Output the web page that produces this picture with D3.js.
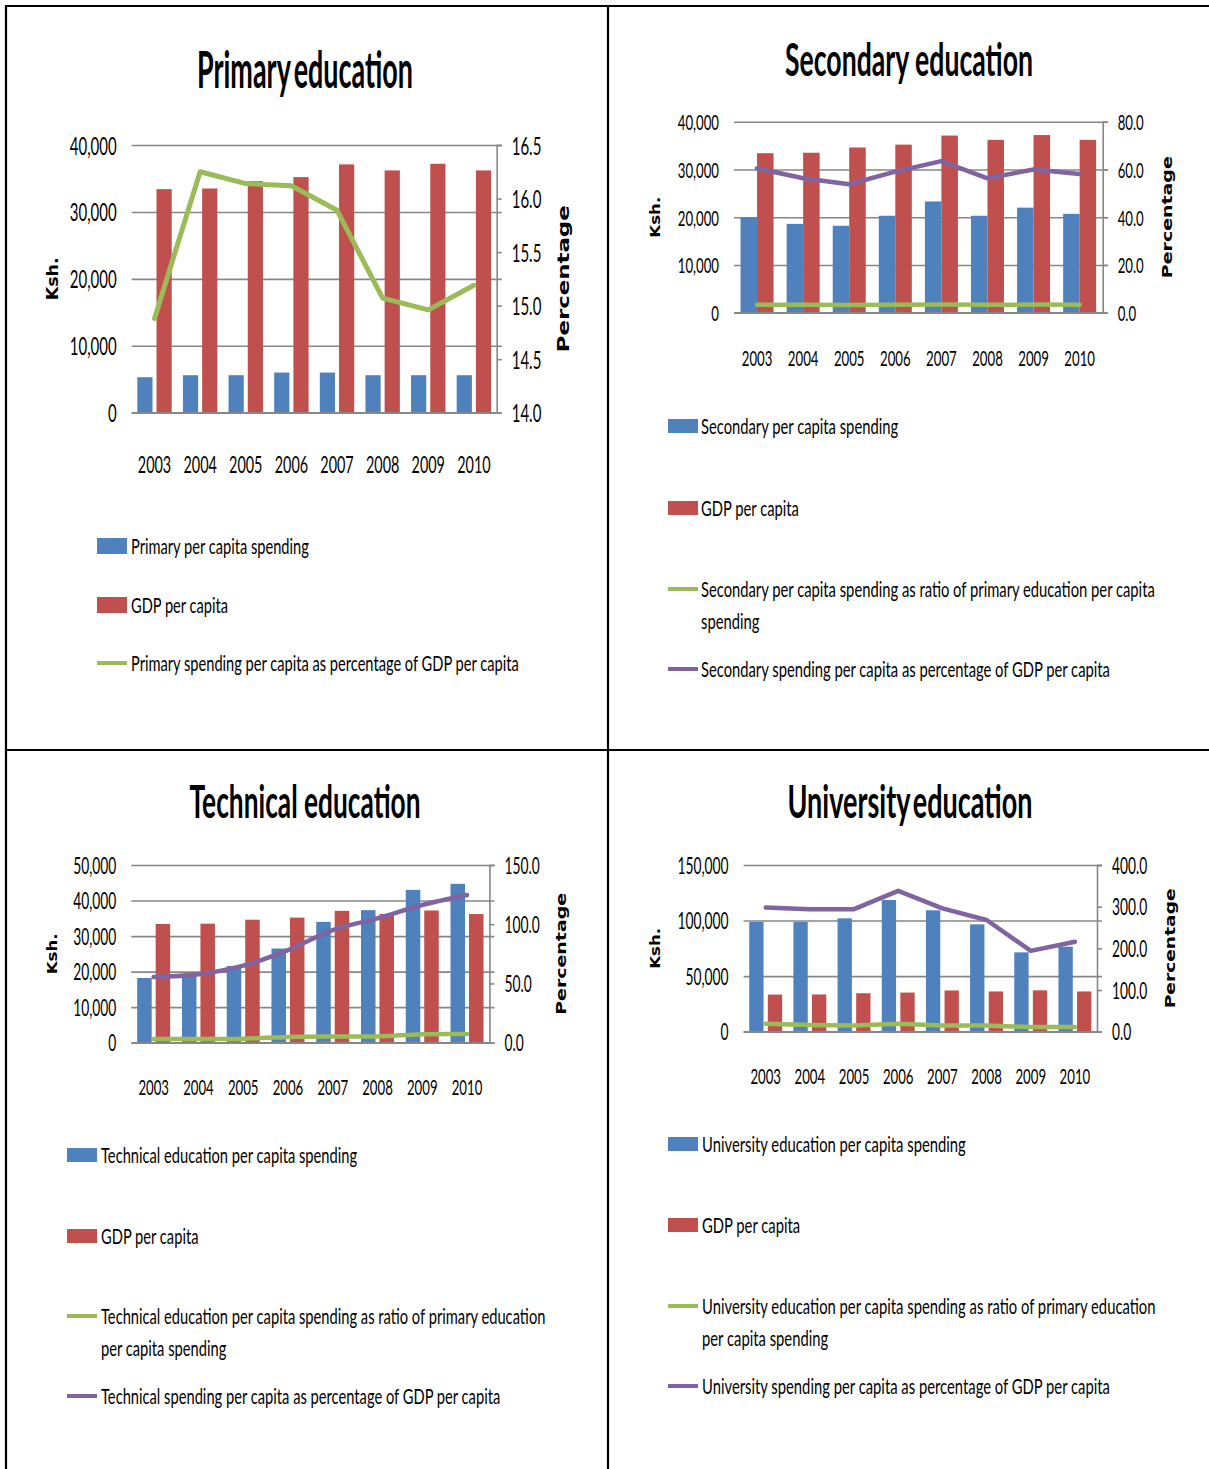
<!DOCTYPE html>
<html>
<head>
<meta charset="utf-8">
<script src="https://cdn.jsdelivr.net/npm/d3@7"></script>
<style>
  html, body { margin: 0; padding: 0; background: #ffffff; }
  svg { display: block; }
</style>
</head>
<body>
<svg id="chart" width="1209" height="1469"></svg>
<script>
// ---- Data (Ksh. per capita and percentages, 2003-2010) ----
const years = ["2003", "2004", "2005", "2006", "2007", "2008", "2009", "2010"];

const gdpPerCapita = [33400, 33500, 34600, 35200, 37100, 36200, 37200, 36200];

const primarySpending = [5300, 5600, 5600, 6000, 6000, 5600, 5600, 5600];
const primaryPctGdp = [14.88, 16.25, 16.14, 16.12, 15.89, 15.07, 14.96, 15.19];

const secondarySpending = [19900, 18600, 18200, 20300, 23300, 20300, 22000, 20700];
const secondaryRatioPrimary = [3.3, 3.3, 3.2, 3.3, 3.4, 3.3, 3.4, 3.3];
const secondaryPctGdp = [60.5, 56.3, 53.8, 59.1, 63.5, 56.3, 60.0, 58.1];

const technicalSpending = [18200, 19000, 21600, 26500, 34000, 37300, 43000, 44700];
const technicalRatioPrimary = [3.2, 3.2, 3.3, 4.9, 5.3, 5.3, 7.2, 7.4];
const technicalPctGdp = [55.4, 57.7, 65.0, 78.2, 95.1, 105.0, 116.2, 124.7];

const universitySpending = [98700, 98700, 102000, 118500, 109200, 96600, 71400, 76500];
const universityRatioPrimary = [19, 16, 15, 19, 15, 15, 11, 11];
const universityPctGdp = [298, 294, 294, 338, 296, 268, 194, 216];

// ---- Styling ----
const COLORS = {
  blue: "#4F81BD",
  red: "#C0504D",
  green: "#9BBB59",
  purple: "#8064A2",
  grid: "#878787"
};
const FONT = "Lato, 'Open Sans', sans-serif";
const LABEL_FONT = "'DejaVu Sans', Verdana, sans-serif";
const TICK_SQUEEZE = 0.6;   // horizontal compression of the narrow label face

const svg = d3.select("#chart");

// Narrow a text horizontally by factor k, keeping its anchor point in place
function squeezeNode(node, k) {
  const t = d3.select(node);
  const x = +(t.attr("x") || 0);
  t.attr("x", x / k).attr("transform", `scale(${k},1)`);
}
function squeeze(sel, k) {
  sel.each(function () { squeezeNode(this, k); });
}
// Narrow a text so that it spans a given width
function fitTo(sel, width) {
  sel.each(function () {
    const w = this.getComputedTextLength();
    squeezeNode(this, width / w);
  });
}

const panels = [
  {
    title: "Primary education", titleX: 305, titleY: 88, titleSize: 52, titleW: 216, titleWordSpace: -6,
    x0: 131.7, x1: 496.7, yTop: 145, yBot: 412.7,
    leftDomain: [0, 40000], leftTicks: [0, 10000, 20000, 30000, 40000],
    rightDomain: [14, 16.5], rightTicks: [14, 14.5, 15, 15.5, 16, 16.5],
    tickSize: 25, yearSize: 24, yearOffset: 52,
    kshX: 52, kshLen: 43, pctX: 563, pctLen: 147, sideSize: 16,
    barW: 0.333, barGap: 0.088,
    bars: [primarySpending, gdpPerCapita],
    lines: [{ values: primaryPctGdp, color: COLORS.green, width: 5 }],
    curve: d3.curveLinear,
    legend: {
      x: 97, textX: 131, size: 22, rectH: 16, squeeze: 0.665,
      rows: [
        { kind: "rect", color: COLORS.blue, y: 546, text: ["Primary per capita spending"] },
        { kind: "rect", color: COLORS.red, y: 605, text: ["GDP per capita"] },
        { kind: "line", color: COLORS.green, y: 663, text: ["Primary spending per capita as percentage of GDP per capita"] }
      ]
    }
  },
  {
    title: "Secondary education", titleX: 909, titleY: 76, titleSize: 46, titleW: 248, titleWordSpace: 0,
    x0: 734, x1: 1102.7, yTop: 121.7, yBot: 312.7,
    leftDomain: [0, 40000], leftTicks: [0, 10000, 20000, 30000, 40000],
    rightDomain: [0, 80], rightTicks: [0, 20, 40, 60, 80],
    tickSize: 22, yearSize: 22, yearOffset: 45,
    kshX: 655, kshLen: 41, pctX: 1167, pctLen: 122, sideSize: 14,
    barW: 0.358, barGap: 0,
    bars: [secondarySpending, gdpPerCapita],
    lines: [
      { values: secondaryRatioPrimary, color: COLORS.green, width: 4.5 },
      { values: secondaryPctGdp, color: COLORS.purple, width: 4.5 }
    ],
    curve: d3.curveLinear,
    legend: {
      x: 668, textX: 701, size: 21, rectH: 14, squeeze: 0.703,
      rows: [
        { kind: "rect", color: COLORS.blue, y: 426, text: ["Secondary per capita spending"] },
        { kind: "rect", color: COLORS.red, y: 508, text: ["GDP per capita"] },
        { kind: "line", color: COLORS.green, y: 589, text: ["Secondary per capita spending as ratio of primary education per capita", "spending"] },
        { kind: "line", color: COLORS.purple, y: 669, text: ["Secondary spending per capita as percentage of GDP per capita"] }
      ]
    }
  },
  {
    title: "Technical education", titleX: 305, titleY: 818, titleSize: 45, titleW: 231, titleWordSpace: 0,
    x0: 131.3, x1: 489.4, yTop: 865, yBot: 1042.7,
    leftDomain: [0, 50000], leftTicks: [0, 10000, 20000, 30000, 40000, 50000],
    rightDomain: [0, 150], rightTicks: [0, 50, 100, 150],
    tickSize: 23, yearSize: 22, yearOffset: 44,
    kshX: 52, kshLen: 41, pctX: 561, pctLen: 122, sideSize: 14,
    barW: 0.324, barGap: 0.089,
    bars: [technicalSpending, gdpPerCapita],
    lines: [
      { values: technicalRatioPrimary, color: COLORS.green, width: 4.5 },
      { values: technicalPctGdp, color: COLORS.purple, width: 4.5 }
    ],
    curve: d3.curveCatmullRom.alpha(0.5),
    legend: {
      x: 67, textX: 101, size: 21, rectH: 14, squeeze: 0.7,
      rows: [
        { kind: "rect", color: COLORS.blue, y: 1155, text: ["Technical education per capita spending"] },
        { kind: "rect", color: COLORS.red, y: 1236, text: ["GDP per capita"] },
        { kind: "line", color: COLORS.green, y: 1316, text: ["Technical education per capita spending as ratio of primary education", "per capita spending"] },
        { kind: "line", color: COLORS.purple, y: 1396, text: ["Technical spending per capita as percentage of GDP per capita"] }
      ]
    }
  },
  {
    title: "University education", titleX: 910, titleY: 818, titleSize: 45, titleW: 245, titleWordSpace: -6,
    x0: 743.6, x1: 1097, yTop: 865, yBot: 1031.7,
    leftDomain: [0, 150000], leftTicks: [0, 50000, 100000, 150000],
    rightDomain: [0, 400], rightTicks: [0, 100, 200, 300, 400],
    tickSize: 23, yearSize: 22, yearOffset: 44,
    kshX: 655, kshLen: 41, pctX: 1170, pctLen: 120, sideSize: 14,
    barW: 0.324, barGap: 0.097,
    bars: [universitySpending, gdpPerCapita],
    lines: [
      { values: universityRatioPrimary, color: COLORS.green, width: 4.5 },
      { values: universityPctGdp, color: COLORS.purple, width: 4.5 }
    ],
    curve: d3.curveLinear,
    legend: {
      x: 668, textX: 702, size: 21, rectH: 14, squeeze: 0.705,
      rows: [
        { kind: "rect", color: COLORS.blue, y: 1144, text: ["University education per capita spending"] },
        { kind: "rect", color: COLORS.red, y: 1225, text: ["GDP per capita"] },
        { kind: "line", color: COLORS.green, y: 1306, text: ["University education per capita spending as ratio of primary education", "per capita spending"] },
        { kind: "line", color: COLORS.purple, y: 1386, text: ["University spending per capita as percentage of GDP per capita"] }
      ]
    }
  }
];

function drawPanel(p) {
  const g = svg.append("g");
  const x = d3.scaleBand().domain(years).range([p.x0, p.x1]).paddingInner(0).paddingOuter(0);
  const yL = d3.scaleLinear().domain(p.leftDomain).range([p.yBot, p.yTop]);
  const yR = d3.scaleLinear().domain(p.rightDomain).range([p.yBot, p.yTop]);
  const bw = x.bandwidth();
  const barW = bw * p.barW;
  const gap = bw * p.barGap;
  const side = (bw - 2 * barW - gap) / 2;

  // horizontal gridlines (run out past the right axis as its tick marks)
  const grid = g.append("g")
    .attr("transform", `translate(${p.x0},0)`)
    .call(d3.axisRight(yL).tickValues(p.leftTicks).tickSize(p.x1 - p.x0 + 5).tickFormat(""));
  grid.select(".domain").remove();
  grid.selectAll("line").attr("stroke", COLORS.grid).attr("stroke-width", 1.6);

  // right axis line and ticks
  const rAxis = g.append("g")
    .attr("transform", `translate(${p.x1},0)`)
    .call(d3.axisRight(yR).tickValues(p.rightTicks).tickSize(5).tickPadding(10)
      .tickFormat(d3.format(".1f")));
  rAxis.select(".domain").attr("stroke", COLORS.grid).attr("stroke-width", 1.6);
  rAxis.selectAll("line").attr("stroke", COLORS.grid).attr("stroke-width", 1.6);
  rAxis.selectAll("text")
    .attr("font-family", FONT).attr("font-size", p.tickSize).attr("fill", "#000")
    .attr("dy", "0.36em");
  squeeze(rAxis.selectAll("text"), TICK_SQUEEZE);

  // left axis labels
  const lAxis = g.append("g")
    .attr("transform", `translate(${p.x0},0)`)
    .call(d3.axisLeft(yL).tickValues(p.leftTicks).tickSize(0).tickPadding(15)
      .tickFormat(d3.format(",")));
  lAxis.select(".domain").remove();
  lAxis.selectAll("text")
    .attr("font-family", FONT).attr("font-size", p.tickSize).attr("fill", "#000")
    .attr("dy", "0.36em");
  squeeze(lAxis.selectAll("text"), TICK_SQUEEZE);

  // bars
  const series = [
    { values: p.bars[0], color: COLORS.blue, off: side },
    { values: p.bars[1], color: COLORS.red, off: side + barW + gap }
  ];
  series.forEach(s => {
    g.append("g").selectAll("rect")
      .data(years.map((yr, i) => ({ yr, v: s.values[i] })))
      .join("rect")
      .attr("x", d => x(d.yr) + s.off)
      .attr("y", d => yL(d.v))
      .attr("width", barW)
      .attr("height", d => p.yBot - yL(d.v))
      .attr("fill", s.color);
  });

  // bottom axis line and category labels
  const bAxis = g.append("g")
    .attr("transform", `translate(0,${p.yBot})`)
    .call(d3.axisBottom(x).tickSize(0).tickSizeOuter(0));
  bAxis.select(".domain").attr("stroke", COLORS.grid).attr("stroke-width", 1.6)
    .attr("d", `M${p.x0},0H${p.x1 + 0.8}`);
  bAxis.selectAll("text")
    .attr("font-family", FONT).attr("font-size", p.yearSize).attr("fill", "#000")
    .attr("y", p.yearOffset).attr("dy", "0.36em");
  squeeze(bAxis.selectAll("text"), TICK_SQUEEZE);

  // lines on the right-hand scale
  p.lines.forEach(l => {
    const line = d3.line()
      .x((d, i) => x(years[i]) + bw / 2)
      .y(d => yR(d))
      .curve(p.curve);
    g.append("path")
      .datum(l.values)
      .attr("d", line)
      .attr("fill", "none")
      .attr("stroke", l.color)
      .attr("stroke-width", l.width)
      .attr("stroke-linejoin", "round")
      .attr("stroke-linecap", "round");
  });

  // axis titles
  const cy = (p.yTop + p.yBot) / 2;
  g.append("text")
    .attr("transform", `translate(${p.kshX},${cy}) rotate(-90)`)
    .attr("text-anchor", "middle").attr("dy", "0.36em")
    .attr("font-family", LABEL_FONT).attr("font-weight", "bold")
    .attr("font-size", p.sideSize)
    .attr("textLength", p.kshLen).attr("lengthAdjust", "spacingAndGlyphs")
    .text("Ksh.");
  g.append("text")
    .attr("transform", `translate(${p.pctX},${cy}) rotate(-90)`)
    .attr("text-anchor", "middle").attr("dy", "0.36em")
    .attr("font-family", LABEL_FONT).attr("font-weight", "bold")
    .attr("font-size", p.sideSize)
    .attr("textLength", p.pctLen).attr("lengthAdjust", "spacingAndGlyphs")
    .text("Percentage");

  // chart title
  const title = g.append("text")
    .attr("x", p.titleX).attr("y", p.titleY)
    .attr("text-anchor", "middle")
    .attr("font-family", FONT).attr("font-weight", "bold")
    .attr("font-size", p.titleSize)
    .attr("word-spacing", p.titleWordSpace)
    .text(p.title);
  fitTo(title, p.titleW);

  // legend
  const lg = g.append("g");
  p.legend.rows.forEach(r => {
    if (r.kind === "rect") {
      lg.append("rect")
        .attr("x", p.legend.x).attr("y", r.y - p.legend.rectH / 2)
        .attr("width", 30).attr("height", p.legend.rectH)
        .attr("fill", r.color);
    } else {
      lg.append("line")
        .attr("x1", p.legend.x).attr("x2", p.legend.x + 30)
        .attr("y1", r.y).attr("y2", r.y)
        .attr("stroke", r.color).attr("stroke-width", 4);
    }
    r.text.forEach((t, i) => {
      lg.append("text")
        .attr("x", p.legend.textX).attr("y", r.y + i * 32)
        .attr("dy", "0.36em")
        .attr("font-family", FONT).attr("font-size", p.legend.size)
        .attr("fill", "#000")
        .text(t);
    });
  });
  squeeze(lg.selectAll("text"), p.legend.squeeze);
}

panels.forEach(drawPanel);

// table frame around the four panels
const frame = svg.append("g").attr("stroke", "#000").attr("stroke-width", 2.2);
frame.append("line").attr("x1", 5).attr("x2", 1209).attr("y1", 6).attr("y2", 6);
frame.append("line").attr("x1", 6).attr("x2", 6).attr("y1", 5).attr("y2", 1469);
frame.append("line").attr("x1", 608).attr("x2", 608).attr("y1", 5).attr("y2", 1469);
frame.append("line").attr("x1", 5).attr("x2", 1209).attr("y1", 750).attr("y2", 750);
</script>
</body>
</html>
